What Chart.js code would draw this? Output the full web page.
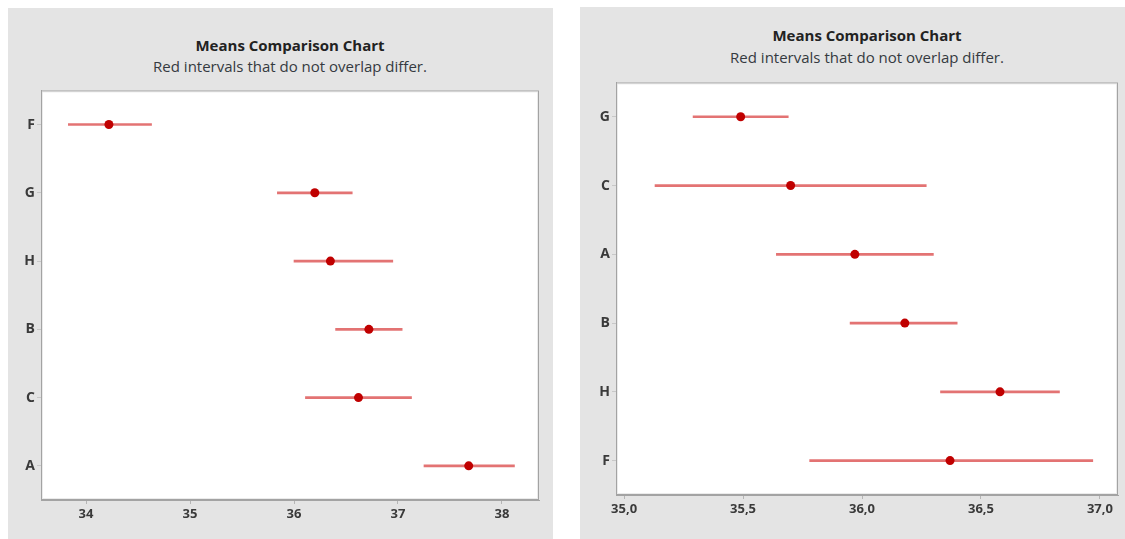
<!DOCTYPE html>
<html>
<head>
<meta charset="utf-8">
<script src="https://cdn.jsdelivr.net/npm/chart.js@4.4.0/dist/chart.umd.min.js"></script>
<style>
  body { margin:0; background:#fff; width:1125px; height:539px; position:relative; overflow:hidden;
         font-family:"Open Sans","Noto Sans",sans-serif; }
  .panel { position:absolute; background:#e4e4e4; }
  .ttl { position:absolute; left:0; text-align:center; font-weight:700; font-size:15px; line-height:20px; color:#222; white-space:nowrap; }
  .sub { position:absolute; left:0; text-align:center; font-size:15px; line-height:20px; color:#353a40; white-space:nowrap; }
  canvas { position:absolute; }
</style>
</head>
<body>
<div class="panel" style="left:8px; top:8px; width:545px; height:531px;"></div>
<div class="panel" style="left:580px; top:7px; width:545px; height:532px;"></div>

<div class="ttl" style="left:41px; width:498px; top:35px;">Means Comparison Chart</div>
<div class="sub" style="left:41px; width:498px; top:56px;">Red intervals that do not overlap differ.</div>
<div class="ttl" style="left:616px; width:502px; top:25px;">Means Comparison Chart</div>
<div class="sub" style="left:616px; width:502px; top:47px;">Red intervals that do not overlap differ.</div>

<canvas id="chartLeft" width="545" height="458" style="left:8px; top:80px;"></canvas>
<canvas id="chartRight" width="545" height="467" style="left:580px; top:72px;"></canvas>

<script>
// --- left chart data ---
const leftCats  = ['F', 'G', 'H', 'B', 'C', 'A'];
const leftMeans = [34.22, 36.20, 36.35, 36.72, 36.62, 37.68];
const leftLow   = [33.83, 35.84, 36.00, 36.40, 36.11, 37.25];
const leftHigh  = [34.63, 36.56, 36.95, 37.04, 37.13, 38.12];
const leftTicks = [34, 35, 36, 37, 38];

// --- right chart data ---
const rightCats  = ['G', 'C', 'A', 'B', 'H', 'F'];
const rightMeans = [35.49, 35.70, 35.97, 36.18, 36.58, 36.37];
const rightLow   = [35.29, 35.13, 35.64, 35.95, 36.33, 35.78];
const rightHigh  = [35.69, 36.27, 36.30, 36.40, 36.83, 36.97];
const rightTicks = [35.0, 35.5, 36.0, 36.5, 37.0];

const intervalColor = 'rgba(222, 90, 90, 0.85)';
const meanColor = '#c00000';
const tickFont = { family: '"Open Sans","Noto Sans",sans-serif', size: 13, weight: '700' };

// white plot area + frame
const plotFrame = {
    id: 'plotFrame',
    beforeDraw(chart) {
        const { ctx, chartArea: a } = chart;
        ctx.save();
        ctx.fillStyle = '#fff';
        ctx.fillRect(a.left, a.top, a.right - a.left, a.bottom - a.top);
        ctx.restore();
    },
    afterDraw(chart) {
        const { ctx, chartArea: a } = chart;
        ctx.save();
        ctx.strokeStyle = 'rgba(0,0,0,0.08)';
        ctx.lineWidth = 1;
        ctx.strokeRect(a.left + 1.5, a.top + 1.5, a.right - a.left - 3, a.bottom - a.top - 3);
        ctx.strokeStyle = '#a3a3a3';
        ctx.strokeRect(a.left + 0.5, a.top + 0.5, a.right - a.left - 1, a.bottom - a.top - 1);
        ctx.restore();
    }
};

function makeChart(id, cats, means, low, high, ticks, xMin, xMax, yWidth, xHeight, padRight, fmt) {
    const ranges = cats.map((c, i) => [low[i], high[i]]);
    return new Chart(document.getElementById(id), {
        type: 'bar',
        data: {
            labels: cats,
            datasets: [
                {
                    type: 'line',
                    indexAxis: 'y',
                    data: means,
                    showLine: false,
                    pointRadius: 4.5,
                    pointHoverRadius: 4.5,
                    pointBackgroundColor: meanColor,
                    pointBorderColor: meanColor,
                    pointBorderWidth: 0,
                    order: 0
                },
                {
                    data: ranges,
                    backgroundColor: intervalColor,
                    borderWidth: 0,
                    barThickness: 2,
                    borderSkipped: false,
                    order: 1
                }
            ]
        },
        options: {
            indexAxis: 'y',
            responsive: false,
            animation: false,
            layout: { padding: { top: 9, right: padRight, left: 0, bottom: 0 } },
            plugins: { legend: { display: false }, tooltip: { enabled: false } },
            scales: {
                x: {
                    type: 'linear',
                    min: xMin,
                    max: xMax,
                    afterBuildTicks: s => { s.ticks = ticks.map(v => ({ value: v })); },
                    afterFit: s => { s.height = xHeight; },
                    grid: { display: true, drawOnChartArea: false, drawTicks: true, tickLength: 4, color: '#b5b5b5' },
                    border: { display: true, color: '#a3a3a3' },
                    ticks: { color: '#3a3a3a', font: tickFont, padding: 2, callback: v => fmt(v), maxRotation: 0 }
                },
                y: {
                    type: 'category',
                    offset: true,
                    afterFit: s => { s.width = yWidth; },
                    grid: { display: true, offset: false, drawOnChartArea: false, drawTicks: true, tickLength: 4, color: '#c8c8c8' },
                    border: { display: true, color: '#a3a3a3' },
                    ticks: { color: '#3a3a3a', font: { ...tickFont, size: 14 }, padding: 2 }
                }
            }
        },
        plugins: [plotFrame]
    });
}

makeChart('chartLeft', leftCats, leftMeans, leftLow, leftHigh, leftTicks,
    33.567, 38.356, 33, 38, 14, v => String(v));
makeChart('chartRight', rightCats, rightMeans, rightLow, rightHigh, rightTicks,
    34.966, 37.076, 36, 44, 7, v => v.toFixed(1).replace('.', ','));
</script>
</body>
</html>
